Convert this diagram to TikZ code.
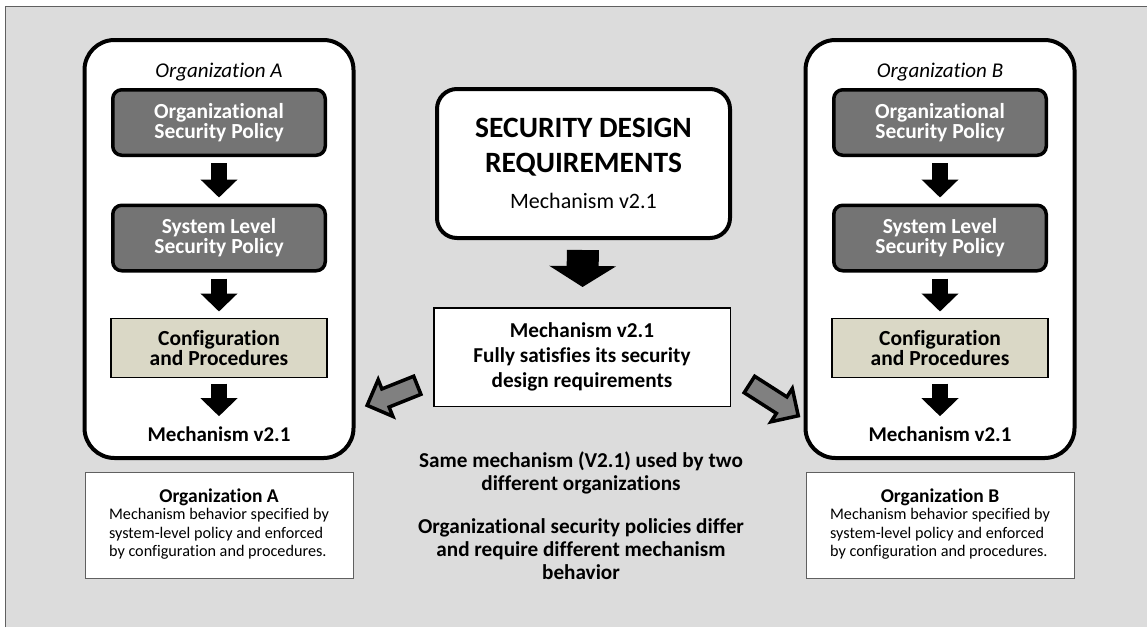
\documentclass[tikz,border=0pt]{standalone}
\usepackage{fontspec}
\setmainfont{Carlito}[Ligatures=NoCommon]
\usetikzlibrary{positioning}
\usetikzlibrary{calc}
\usetikzlibrary{arrows.meta}
\usetikzlibrary{shapes.arrows}
\definecolor{panelgray}{RGB}{220,220,220}
\definecolor{policygray}{RGB}{116,116,116}
\definecolor{configtan}{RGB}{218,216,198}
\definecolor{framegray}{RGB}{96,96,96}
\definecolor{pointergray}{RGB}{128,128,128}

\begin{document}
\begin{tikzpicture}[x=1pt,y=-1pt]
			\tikzset{orgframe/.style = {shape=rectangle, rounded corners=30pt, line width=4pt, draw, fill=white, minimum width=269pt, minimum height=418pt},
				orgname/.style = {font=\fontsize{21}{24}\selectfont\itshape, inner sep=0pt},
				policy/.style = {shape=rectangle, rounded corners=9pt, line width=3.5pt, draw, fill=policygray, text=white, align=center, font=\fontsize{21.5}{20}\selectfont\bfseries, minimum width=212.5pt, minimum height=65.5pt},
				config/.style = {shape=rectangle, line width=1.2pt, draw, fill=configtan, align=center, font=\fontsize{21.5}{20}\selectfont\bfseries, minimum width=216pt, minimum height=59pt},
				mechname/.style = {font=\fontsize{21}{24}\selectfont\bfseries, inner sep=0pt},
				notebox/.style = {shape=rectangle, line width=1pt, draw=framegray, fill=white, align=center, font=\fontsize{16.2}{18.5}\selectfont, minimum width=268pt, minimum height=106pt},
				reqbox/.style = {shape=rectangle, rounded corners=20pt, line width=4pt, draw, fill=white, align=center, font=\fontsize{29.5}{35}\selectfont\bfseries, minimum width=293pt, minimum height=149pt},
				mechbox/.style = {shape=rectangle, line width=1.5pt, draw, fill=white, align=center, font=\fontsize{21.2}{25}\selectfont\bfseries, minimum width=296.5pt, minimum height=98.5pt},
				remark/.style = {align=center, font=\fontsize{21.2}{23}\selectfont\bfseries, inner sep=0pt},
				bigblock/.style = {line width=16pt, -{Triangle[width=36pt 0 0, length=18pt 0 0]}, shorten <=6pt, shorten >=6pt},
				widearrow/.style = {line width=32pt, -{Triangle[width=66pt 0 0, length=21pt 0 0]}, shorten <=10pt, shorten >=20pt},
				pointer/.style = {single arrow, draw, line width=3.5pt, fill=pointergray, inner xsep=0pt, inner ysep=8pt, single arrow head extend=10pt, minimum height=54pt}}
			\useasboundingbox (0,0) rectangle (1147,627);
			\fill[white] (0,0) rectangle (1147,627);
			\fill[panelgray] (5,6) rectangle (1147,627);
			\draw[framegray, line width=1pt] (5,627) -- (5,6) -- (1147,6);
			
			\foreach \org/\cx in {A/219,B/940}{
				\node[orgframe] (ORG\org) at (\cx,249) {};
				\node[orgname] (NAME\org) at (\cx,72) {Organization \org};
				\node[policy] (OSP\org) at (\cx,122.5) {Organizational\\Security Policy};
				\node[policy, below=46.5pt of OSP\org] (SLSP\org) {System Level\\Security Policy};
				\node[config, below=45pt of SLSP\org] (CFG\org) {Configuration\\and Procedures};
				\node[mechname, below=48.5pt of CFG\org] (MECH\org) {Mechanism v2.1};
				\node[notebox] (NOTE\org) at (\cx,525.5)
				{{\fontsize{19.5}{22}\selectfont\bfseries Organization \org}\\
					\begin{tabular}{@{}l@{}}
						Mechanism behavior specified by\\
						system-level policy and enforced\\
						by configuration and procedures.
					\end{tabular}};
				\draw[bigblock] (OSP\org) -- (SLSP\org);
				\draw[bigblock] (SLSP\org) -- (CFG\org);
				\draw[bigblock, shorten >=10pt] (CFG\org) -- (MECH\org);
			}
			
			\node[reqbox] (REQ) at (583.5,163.5)
			{SECURITY DESIGN\\
				REQUIREMENTS\\[1pt]
				{\fontsize{22}{26}\selectfont\mdseries Mechanism v2.1}};
			\node[mechbox] (MECH) at (582,357)
			{Mechanism v2.1\\Fully satisfies its security\\design requirements};
			\draw[widearrow] (REQ) -- (MECH);
			
			\node[remark] (SAME) at (581,473) {Same mechanism (V2.1) used by two\\different organizations};
			\node[remark, below=24pt of SAME] (DIFFER) {Organizational security policies differ\\and require different mechanism\\behavior};
			
			\coordinate (TAILA) at ($(MECH.south west)+(-10,-24)$);
			\coordinate (TIPA) at ($(ORGA.south east)+(15,-56)$);
			\coordinate (TAILB) at ($(MECH.south east)+(13,-26)$);
			\coordinate (TIPB) at ($(ORGB.south west)+(-8,-46)$);
			\path (TAILA) -- (TIPA) node[pointer, midway, sloped, allow upside down] {};
			\path (TAILB) -- (TIPB) node[pointer, midway, sloped, allow upside down, minimum height=58pt] {};
\end{tikzpicture}
\end{document}
